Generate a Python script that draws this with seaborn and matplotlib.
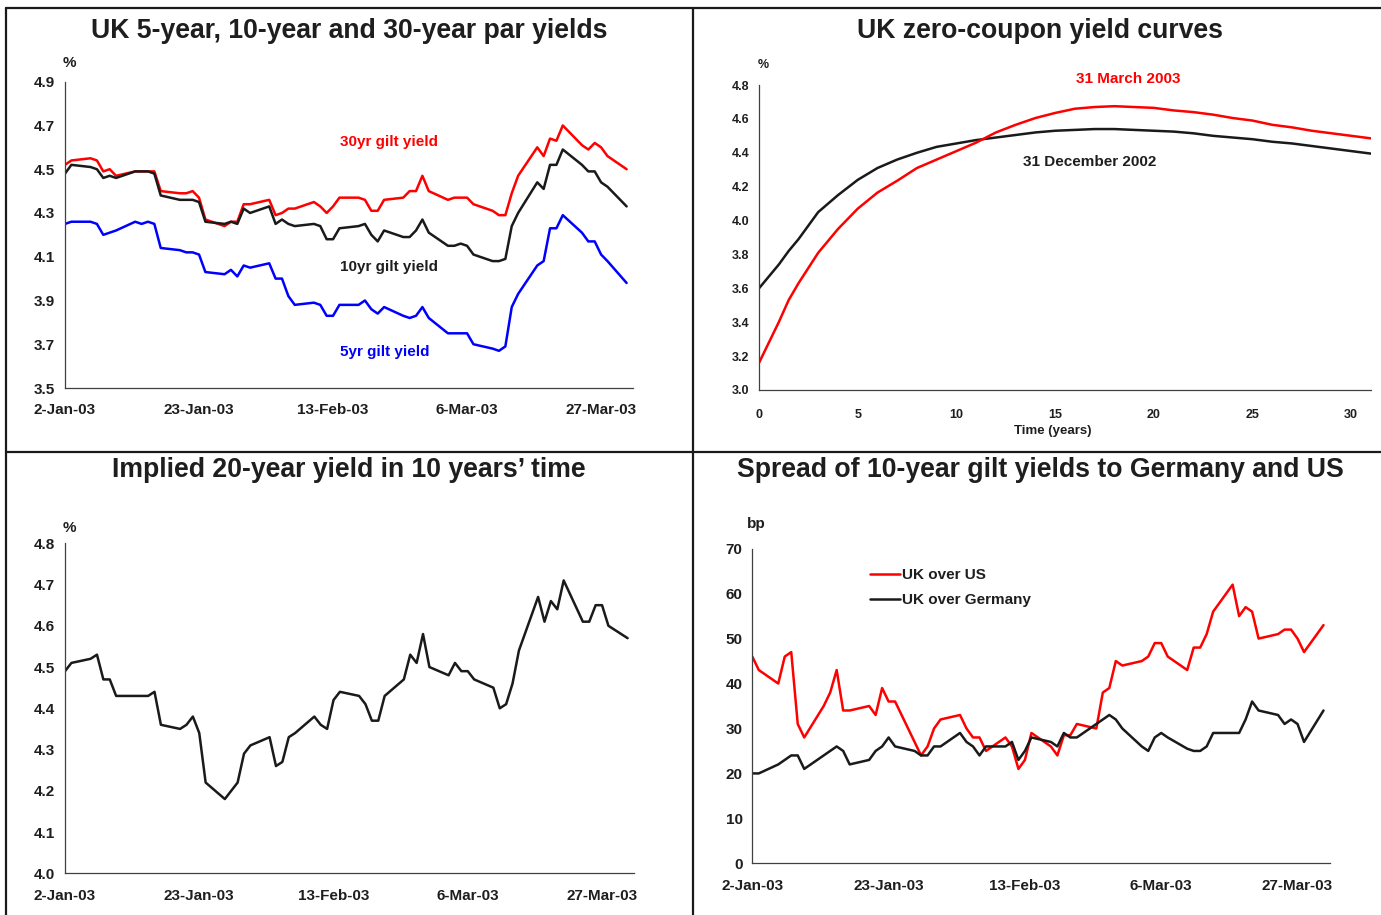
import matplotlib
matplotlib.use('Agg')
import matplotlib.pyplot as plt
import seaborn as sns
import pandas as pd
from matplotlib.lines import Line2D

# ---------------- data ----------------
dates = pd.bdate_range('2003-01-02', '2003-03-31')
date_ticks = ['2-Jan-03', '23-Jan-03', '13-Feb-03', '6-Mar-03', '27-Mar-03']

yield30 = [4.52, 4.54, 4.55, 4.54, 4.49, 4.50, 4.47, 4.49, 4.49, 4.49, 4.49, 4.40,
           4.39, 4.39, 4.40, 4.37, 4.27,
           4.24, 4.26, 4.26, 4.34, 4.34,
           4.36, 4.29, 4.30, 4.32, 4.32,
           4.35, 4.33, 4.30, 4.33, 4.37,
           4.37, 4.36, 4.31, 4.31, 4.36,
           4.37, 4.40, 4.40, 4.47, 4.40,
           4.36, 4.37, 4.37, 4.37, 4.34,
           4.31, 4.29, 4.29, 4.39, 4.47,
           4.60, 4.56, 4.64, 4.63, 4.70,
           4.61, 4.59, 4.62, 4.60, 4.56,
           4.50]
yield10 = [4.48, 4.52, 4.51, 4.50, 4.46, 4.47, 4.46, 4.49, 4.49, 4.49, 4.48, 4.38,
           4.36, 4.36, 4.36, 4.35, 4.26,
           4.25, 4.26, 4.25, 4.32, 4.30,
           4.33, 4.25, 4.27, 4.25, 4.24,
           4.25, 4.24, 4.18, 4.18, 4.23,
           4.24, 4.25, 4.20, 4.17, 4.22,
           4.19, 4.19, 4.22, 4.27, 4.21,
           4.15, 4.15, 4.16, 4.15, 4.11,
           4.08, 4.08, 4.09, 4.24, 4.30,
           4.44, 4.41, 4.52, 4.52, 4.59,
           4.52, 4.49, 4.49, 4.44, 4.42,
           4.33]
yield5 = [4.25, 4.26, 4.26, 4.25, 4.20, 4.21, 4.22, 4.26, 4.25, 4.26, 4.25, 4.14,
          4.13, 4.12, 4.12, 4.11, 4.03,
          4.02, 4.04, 4.01, 4.06, 4.05,
          4.07, 4.00, 4.00, 3.92, 3.88,
          3.89, 3.88, 3.83, 3.83, 3.88,
          3.88, 3.90, 3.86, 3.84, 3.87,
          3.83, 3.82, 3.83, 3.87, 3.82,
          3.75, 3.75, 3.75, 3.75, 3.70,
          3.68, 3.67, 3.69, 3.87, 3.93,
          4.06, 4.08, 4.23, 4.23, 4.29,
          4.21, 4.17, 4.17, 4.11, 4.08,
          3.98]

maturity = [0, 0.5, 1, 1.5, 2, 3, 4, 5, 6, 7, 8, 9, 10, 11, 12, 13, 14, 15, 16,
            17, 18, 19, 20, 21, 22, 23, 24, 25, 26, 27, 28, 29, 30, 31]
zc_mar03 = [3.16, 3.28, 3.40, 3.53, 3.63, 3.81, 3.95, 4.07, 4.165, 4.235, 4.31, 4.36,
            4.41, 4.46, 4.52, 4.565, 4.605, 4.635, 4.66, 4.67, 4.675, 4.67, 4.665,
            4.65, 4.64, 4.625, 4.605, 4.59, 4.565, 4.55, 4.53, 4.515, 4.50, 4.485]
zc_dec02 = [3.60, 3.67, 3.74, 3.82, 3.89, 4.05, 4.15, 4.24, 4.31, 4.36, 4.40, 4.435,
            4.455, 4.475, 4.49, 4.505, 4.52, 4.53, 4.535, 4.54, 4.54, 4.535, 4.53,
            4.525, 4.515, 4.50, 4.49, 4.48, 4.465, 4.455, 4.44, 4.425, 4.41, 4.395]

implied20 = [4.49, 4.51, 4.52, 4.53, 4.47, 4.47, 4.43, 4.43, 4.43, 4.43, 4.44, 4.36,
             4.35, 4.36, 4.38, 4.34, 4.22,
             4.18, 4.20, 4.22, 4.29, 4.31,
             4.33, 4.26, 4.27, 4.33, 4.34,
             4.38, 4.36, 4.35, 4.42, 4.44,
             4.43, 4.41, 4.37, 4.37, 4.43,
             4.47, 4.53, 4.51, 4.58, 4.50,
             4.48, 4.51, 4.49, 4.49, 4.47,
             4.45, 4.40, 4.41, 4.46, 4.54,
             4.67, 4.61, 4.66, 4.64, 4.71,
             4.61, 4.61, 4.65, 4.65, 4.60,
             4.57]

spread_us = [46, 43, 40, 46, 47, 31, 28, 35, 38, 43, 34, 34,
             35, 33, 39, 36, 36,
             27, 24, 26, 30, 32,
             33, 30, 28, 28, 25,
             28, 26, 21, 23, 29,
             26, 24, 28.5, 28.5, 31,
             30, 38, 39, 45, 44,
             45, 46, 49, 49, 46,
             43, 48, 48, 51, 56,
             62, 55, 57, 56, 50,
             51, 52, 52, 50, 47,
             53]
spread_de = [20, 20, 22, 23, 24, 24, 21, 24, 25, 26, 25, 22,
             23, 25, 26, 28, 26,
             25, 24, 24, 26, 26,
             29, 27, 26, 24, 26,
             26, 27, 23, 25, 28,
             27, 26, 29, 28, 28,
             31, 32, 33, 32, 30,
             26, 25, 28, 29, 28,
             25.5, 25, 25, 26, 29,
             29, 29, 32, 36, 34,
             33, 31, 32, 31, 27,
             34]

titles = ['UK 5-year, 10-year and 30-year par yields',
          'UK zero-coupon yield curves',
          'Implied 20-year yield in 10 years\u2019 time',
          'Spread of 10-year gilt yields to Germany and US']

# ---------------- style ----------------
sns.set_style('white')
plt.rcParams['font.family'] = ['Liberation Sans', 'DejaVu Sans']
plt.rcParams['font.weight'] = 'bold'

W, H = 1381, 915
fig = plt.figure(figsize=(W / 100, H / 100), dpi=100)
fig.patch.set_facecolor('white')

RED, BLUE, BLACK = '#ff0000', '#0000ff', '#1a1a1a'
AX_COL = '#404040'
TXT = '#1e1e1e'


def ax_px(left, top, right, bottom):
    return fig.add_axes([left / W, 1 - bottom / H, (right - left) / W, (bottom - top) / H])


def style(ax, size=11, xpad=7):
    for s in ['top', 'right']:
        ax.spines[s].set_visible(False)
    for s in ['left', 'bottom']:
        ax.spines[s].set_color(AX_COL)
        ax.spines[s].set_linewidth(0.9)
    ax.tick_params(axis='both', direction='out', length=4, width=0.9, color=AX_COL,
                   labelsize=size)
    ax.tick_params(axis='x', pad=xpad)
    ax.tick_params(axis='y', pad=3)
    for lab in ax.get_xticklabels() + ax.get_yticklabels():
        lab.set_fontweight('bold')
        lab.set_color(TXT)
    ax.set_xlabel('')
    ax.set_ylabel('')
    ax.grid(False)
    ax.patch.set_alpha(0)


tick_pos = pd.to_datetime(date_ticks, format='%d-%b-%y')
x0, x1 = pd.Timestamp('2003-01-02'), pd.Timestamp('2003-04-01')


def date_axis(ax, yticks):
    ax.set_xlim(x0, x1)
    ax.set_xticks(tick_pos)
    ax.set_xticklabels(date_ticks)
    ax.set_yticks(yticks)


df = pd.DataFrame({'date': dates, 'y30': yield30, 'y10': yield10, 'y5': yield5,
                   'imp': implied20, 'us': spread_us, 'de': spread_de})
zc = pd.DataFrame({'t': maturity, 'mar': zc_mar03, 'dec': zc_dec02})

LW = 1.8

# ---- panel 1 ----
ax1 = ax_px(65, 81.7, 633, 388)
sns.lineplot(data=df, x='date', y='y30', color=RED, lw=LW, ax=ax1)
sns.lineplot(data=df, x='date', y='y10', color=BLACK, lw=LW, ax=ax1)
sns.lineplot(data=df, x='date', y='y5', color=BLUE, lw=LW, ax=ax1)
y1t = [3.5, 3.7, 3.9, 4.1, 4.3, 4.5, 4.7, 4.9]
date_axis(ax1, y1t)
ax1.set_yticklabels([f'{v:.1f}' for v in y1t])
ax1.set_ylim(3.5, 4.9)
style(ax1)

# ---- panel 2 ----
ax2 = ax_px(759, 85, 1371, 390)
sns.lineplot(data=zc, x='t', y='dec', color=BLACK, lw=LW, ax=ax2)
sns.lineplot(data=zc, x='t', y='mar', color=RED, lw=LW, ax=ax2)
ax2.set_xlim(0, 31)
ax2.set_ylim(3.0, 4.8)
ax2.set_xticks([0, 5, 10, 15, 20, 25, 30])
y2t = [3.0, 3.2, 3.4, 3.6, 3.8, 4.0, 4.2, 4.4, 4.6, 4.8]
ax2.set_yticks(y2t)
ax2.set_yticklabels([f'{v:.1f}' for v in y2t])
style(ax2, size=9, xpad=10)

# ---- panel 3 ----
ax3 = ax_px(65, 543.3, 634, 873.3)
sns.lineplot(data=df, x='date', y='imp', color=BLACK, lw=LW, ax=ax3)
y3t = [4.0, 4.1, 4.2, 4.3, 4.4, 4.5, 4.6, 4.7, 4.8]
date_axis(ax3, y3t)
ax3.set_yticklabels([f'{v:.1f}' for v in y3t])
ax3.set_ylim(4.0, 4.8)
style(ax3)

# ---- panel 4 ----
ax4 = ax_px(752.3, 548.7, 1330, 863.3)
sns.lineplot(data=df, x='date', y='us', color=RED, lw=LW, ax=ax4, label='UK over US')
sns.lineplot(data=df, x='date', y='de', color=BLACK, lw=LW, ax=ax4, label='UK over Germany')
y4t = [0, 10, 20, 30, 40, 50, 60, 70]
date_axis(ax4, y4t)
ax4.set_ylim(0, 70)
style(ax4)
leg = ax4.legend(loc='upper left', bbox_to_anchor=((870 - 752.3) / 577.7, (863.3 - 568) / 314.6),
                 frameon=False, fontsize=11, handlelength=1.95, handletextpad=0.15,
                 labelspacing=0.72, borderaxespad=0, borderpad=0)
for t in leg.get_texts():
    t.set_fontweight('bold')
    t.set_color(TXT)

# ---------------- texts ----------------
def ftext(x, y, s, **kw):
    fig.text(x / W, 1 - y / H, s, **kw)


TKW = dict(fontsize=19.2, fontweight='bold', ha='center', va='center', color=TXT)
ftext(349, 31, titles[0], **TKW)
ftext(1040, 31, titles[1], **TKW)
ftext(349, 470, titles[2], **TKW)
ftext(1040, 470, titles[3], **TKW)

LKW = dict(fontsize=11, fontweight='bold', va='center')
ftext(340, 142, '30yr gilt yield', color=RED, ha='left', **LKW)
ftext(340, 267, '10yr gilt yield', color=TXT, ha='left', **LKW)
ftext(340, 352, '5yr gilt yield', color=BLUE, ha='left', **LKW)
ftext(69, 63, '%', color=TXT, ha='center', **LKW)
ftext(69, 528, '%', color=TXT, ha='center', **LKW)
ftext(756, 524, 'bp', color=TXT, ha='center', **LKW)

ftext(763, 65, '%', color=TXT, ha='center', fontsize=9, fontweight='bold', va='center')
ftext(1128, 79, '31 March 2003', color=RED, ha='center', **LKW)
ftext(1090, 162, '31 December 2002', color=TXT, ha='center', **LKW)
ftext(1053, 431, 'Time (years)', color=TXT, ha='center', fontsize=9.5,
      fontweight='bold', va='center')

# ---------------- frame lines ----------------
FR = dict(color='#1a1a1a', lw=1.6, transform=fig.transFigure)
fig.add_artist(Line2D([6 / W, 6 / W], [0, 1 - 8 / H], **FR))
fig.add_artist(Line2D([6 / W, 1], [1 - 8 / H, 1 - 8 / H], **FR))
fig.add_artist(Line2D([693 / W, 693 / W], [0, 1 - 8 / H], **FR))
fig.add_artist(Line2D([6 / W, 1], [1 - 452 / H, 1 - 452 / H], **FR))

fig.savefig('out.png', dpi=100, facecolor='white')
